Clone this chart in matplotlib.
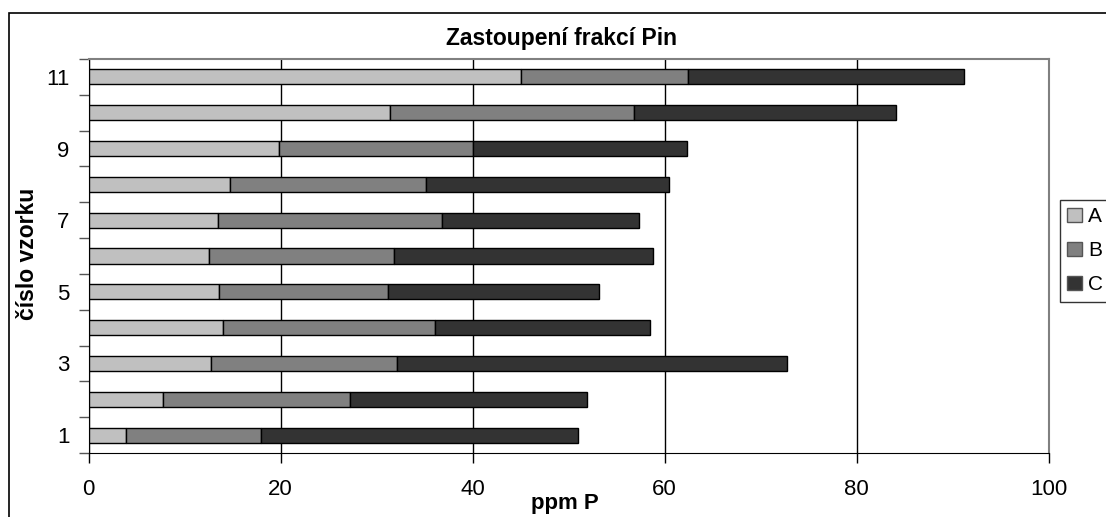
import matplotlib
matplotlib.use("Agg")
import matplotlib.pyplot as plt
from matplotlib.patches import Rectangle
import numpy as np

plt.rcParams['font.family'] = ['Liberation Sans', 'DejaVu Sans']

# sample numbers 1..11, fractions A, B, C (ppm P)
samples = [1, 2, 3, 4, 5, 6, 7, 8, 9, 10, 11]
frac_A = [3.85, 7.7, 12.7, 14.0, 13.6, 12.5, 13.45, 14.7, 19.8, 31.35, 45.05]
frac_B = [14.1, 19.5, 19.4, 22.1, 17.55, 19.3, 23.35, 20.4, 20.2, 25.45, 17.35]
frac_C = [33.05, 24.75, 40.6, 22.4, 22.05, 27.0, 20.5, 25.35, 22.3, 27.3, 28.8]
series_names = ['A', 'B', 'C']
colors = ['#C0C0C0', '#808080', '#333333']
y_labels = ['1', '3', '5', '7', '9', '11']

W, H = 1106, 517
fig = plt.figure(figsize=(W / 100, H / 100), dpi=100)

# outer chart border (runs off the right / bottom edge)
fig.patches.append(Rectangle((9 / W, -0.1), 1.2, 1 - 13 / H + 0.1,
                             transform=fig.transFigure, fill=False,
                             edgecolor='black', linewidth=1.2))

ax = fig.add_axes([88.7 / W, 1 - 453 / H, 960 / W, 394 / H])

y = np.array(samples)
left = np.zeros(len(samples))
for vals, name, col in zip([frac_A, frac_B, frac_C], series_names, colors):
    ax.barh(y, vals, left=left, height=0.42, color=col, edgecolor='black',
            linewidth=1.0, label=name, zorder=3)
    left = left + np.array(vals)

ax.set_xlim(0, 100)
ax.set_ylim(0.5, 11.5)
ax.set_xticks([0, 20, 40, 60, 80, 100])
ax.grid(axis='x', color='black', linewidth=1.0, zorder=0)

# y: tick marks between categories, labels at odd samples
ax.set_yticks(np.arange(0.5, 12, 1))
ax.set_yticklabels([])
ax.set_yticks([int(s) for s in y_labels], minor=True)
ax.set_yticklabels(y_labels, minor=True)
ax.tick_params(axis='y', which='major', direction='out', length=7, color='#555555', width=1)
ax.tick_params(axis='y', which='minor', length=0, pad=14, labelsize=16)
ax.tick_params(axis='x', direction='out', length=7, width=1, pad=12, labelsize=16)

for s in ['top', 'right']:
    ax.spines[s].set_color('#808080')
    ax.spines[s].set_linewidth(1.5)
ax.spines['left'].set_color('black')
ax.spines['bottom'].set_color('black')

fig.text(561 / W, 1 - 38 / H, 'Zastoupení frakcí Pin', ha='center', va='center',
         fontsize=16.5, fontweight='bold')
fig.text(565 / W, 1 - 504 / H, 'ppm P', ha='center', va='center',
         fontsize=16, fontweight='bold')
fig.text(28 / W, 1 - 254 / H, 'číslo vzorku', ha='center', va='center',
         rotation=90, fontsize=16.5, fontweight='bold')

leg = fig.legend(loc='upper left', bbox_to_anchor=(1060 / W, 1 - 200 / H),
                 fontsize=15, frameon=True, fancybox=False, handlelength=0.7,
                 handleheight=0.7, handletextpad=0.3, labelspacing=0.72,
                 borderpad=0.35, borderaxespad=0)
leg.get_frame().set_edgecolor('black')
leg.get_frame().set_linewidth(1.0)
for h in leg.legend_handles:
    h.set_edgecolor('#555555')

fig.savefig('out.png', dpi=100)
